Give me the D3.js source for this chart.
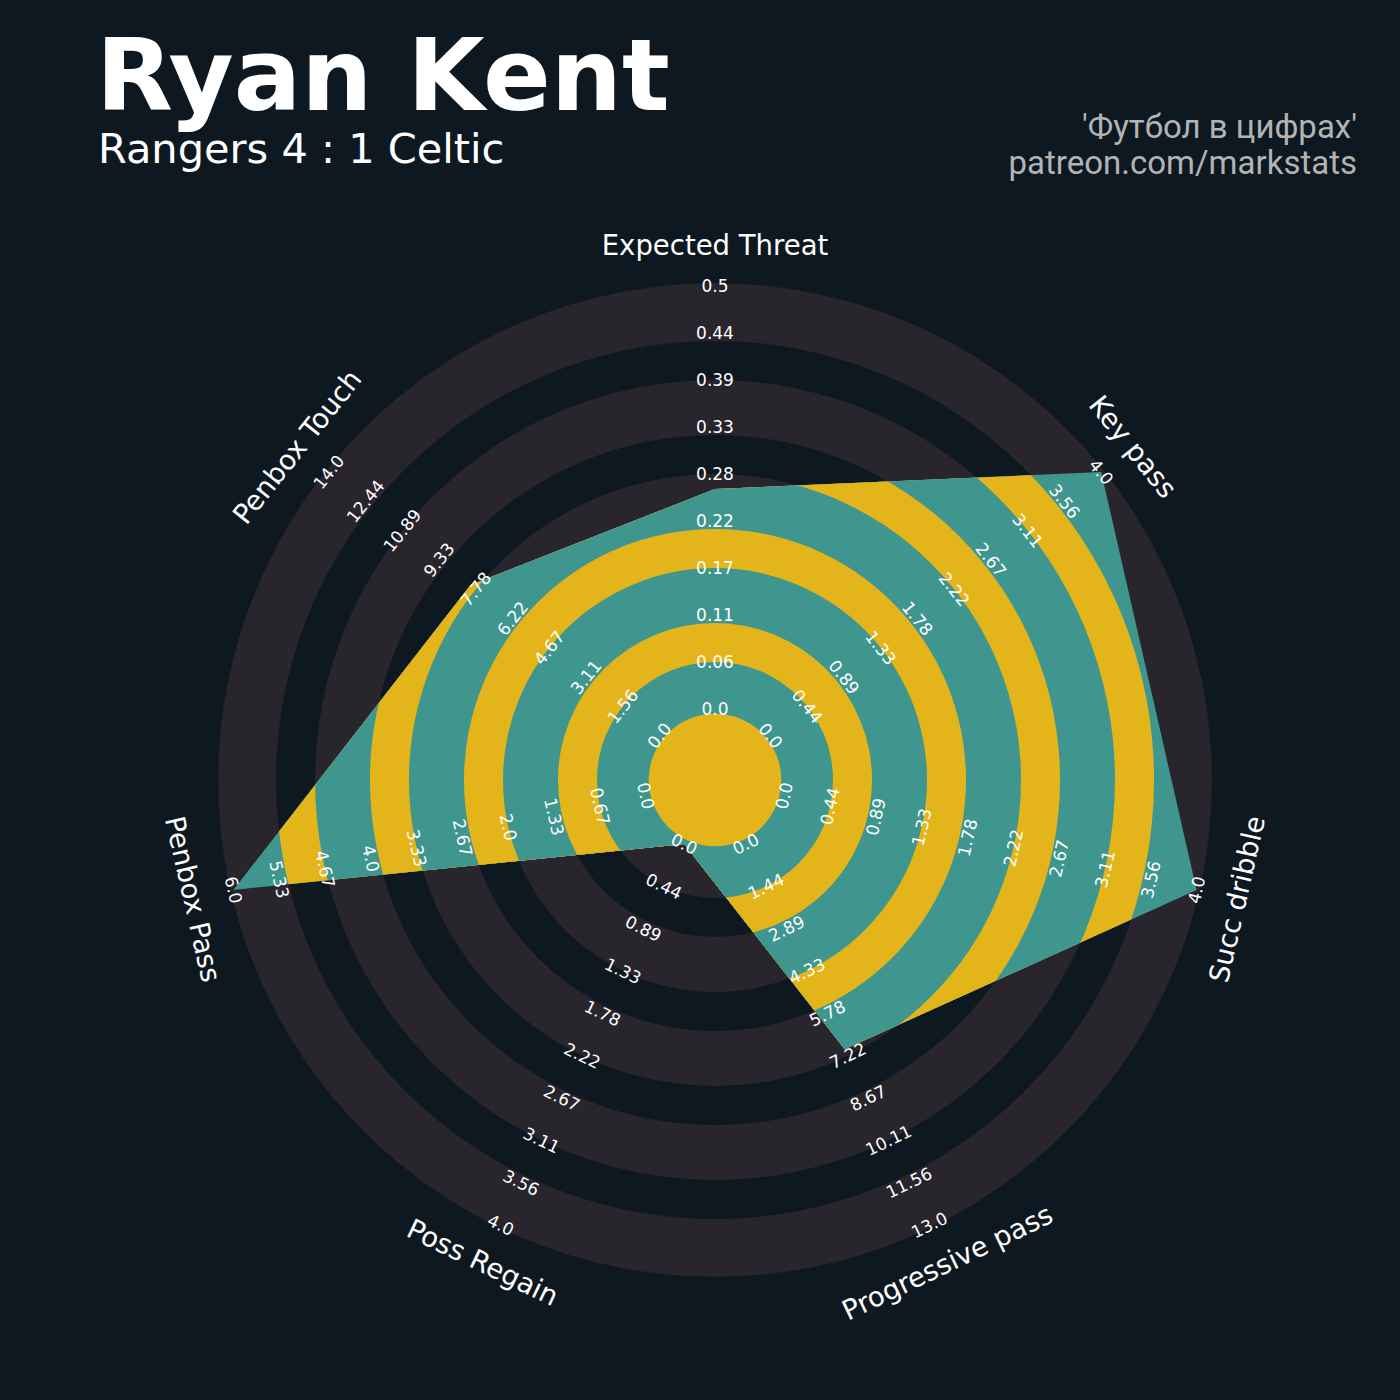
<!DOCTYPE html>
<html>
<head>
<meta charset="utf-8">
<script src="https://cdn.jsdelivr.net/npm/d3@7"></script>
<style>
body { margin: 0; background: #0e1821; }
text { font-family: "DejaVu Sans", sans-serif; }
</style>
</head>
<body>
<div id="chart"></div>
<script>
// radar data
var params = ["Expected Threat", "Key pass", "Succ dribble", "Progressive pass", "Poss Regain", "Penbox Pass", "Penbox Touch"];
var minRange = [0, 0, 0, 0, 0, 0, 0];
var maxRange = [0.5, 4, 4, 13, 4, 6, 14];
var values = [0.26, 4, 4, 7, 0, 6, 8];

var title = "Ryan Kent";
var subtitle = "Rangers 4 : 1 Celtic";
var credits = ["'Футбол в цифрах'", "patreon.com/markstats"];

var width = 1400;
var height = 1400;
var cx = 715;
var cy = 780;
var numRings = 9;

var bg = "#0e1821";
var ringGray = "#28252c";
var teal = "#3e968f";
var yellow = "#e4b51a";

// ring units -> pixels
var r = d3.scaleLinear().domain([0, numRings]).range([71, 494]);

// ring edges, outermost first (wide ring / narrow ring alternating)
var edges = [numRings + 0.06];
for (var k = 4; k >= 1; k--) {
	edges.push(2 * k - 1 + 0.83);
	edges.push(2 * k - 1);
}
edges.push(-0.1);

var angle = d3.scaleLinear().domain([0, params.length]).range([0, 2 * Math.PI]);

var svg = d3.select("#chart").append("svg")
	.attr("width", width)
	.attr("height", height);

svg.append("rect")
	.attr("width", width)
	.attr("height", height)
	.attr("fill", bg);

var g = svg.append("g")
	.attr("transform", "translate(" + cx + "," + cy + ")");

// background rings
g.append("g").selectAll("circle")
	.data(edges)
	.enter()
	.append("circle")
	.attr("r", function(d) { return r(d); })
	.attr("fill", function(d, i) { return i % 2 == 0 ? ringGray : bg; });

// radar polygon, clipped rings
var scales = params.map(function(p, i) {
	return d3.scaleLinear().domain([minRange[i], maxRange[i]]).range([r(0), r(numRings)]);
});

var radial = d3.lineRadial()
	.angle(function(d, i) { return angle(i); })
	.radius(function(d, i) { return scales[i](d); })
	.curve(d3.curveLinearClosed);

g.append("clipPath")
	.attr("id", "radar-clip")
	.append("path")
	.attr("d", radial(values));

g.append("g")
	.attr("clip-path", "url(#radar-clip)")
	.selectAll("circle")
	.data(edges)
	.enter()
	.append("circle")
	.attr("r", function(d) { return r(d); })
	.attr("fill", function(d, i) { return i % 2 == 0 ? teal : yellow; });

// rotation of labels along each spoke
function rotation(i) {
	var deg = angle(i) * 180 / Math.PI;
	if (deg > 90 && deg < 270) {
		return deg - 180;
	}
	return deg;
}

function fmt(v) {
	var s = Math.round(v * 100) / 100;
	return Number.isInteger(s) ? s + ".0" : String(s);
}

// range labels
params.forEach(function(p, i) {
	var ticks = d3.range(numRings + 1);
	var a = angle(i);
	g.append("g").selectAll("text")
		.data(ticks)
		.enter()
		.append("text")
		.attr("transform", function(t) {
			var rr = r(t);
			return "translate(" + (rr * Math.sin(a)) + "," + (-rr * Math.cos(a)) + ") rotate(" + rotation(i) + ")";
		})
		.attr("text-anchor", "middle")
		.attr("dominant-baseline", "central")
		.attr("fill", "#ffffff")
		.style("font-size", "17px")
		.text(function(t) {
			return fmt(scales[i].invert(r(t)));
		});
});

// parameter labels
g.append("g").selectAll("text")
	.data(params)
	.enter()
	.append("text")
	.attr("transform", function(d, i) {
		var a = angle(i);
		return "translate(" + (535 * Math.sin(a)) + "," + (-535 * Math.cos(a)) + ") rotate(" + rotation(i) + ")";
	})
	.attr("text-anchor", "middle")
	.attr("dominant-baseline", "central")
	.attr("fill", "#ffffff")
	.style("font-size", "27.5px")
	.text(function(d) { return d; });

// titles
svg.append("text")
	.attr("x", 96)
	.attr("y", 110)
	.attr("fill", "#ffffff")
	.style("font-size", "100px")
	.style("font-weight", "bold")
	.text(title);

svg.append("text")
	.attr("x", 98)
	.attr("y", 163)
	.attr("fill", "#ffffff")
	.style("font-size", "41.5px")
	.text(subtitle);

svg.append("g").selectAll("text")
	.data(credits)
	.enter()
	.append("text")
	.attr("x", 1357)
	.attr("y", function(d, i) { return 138 + i * 36; })
	.attr("text-anchor", "end")
	.attr("fill", "#b3b3b3")
	.style("font-family", "Roboto")
	.style("font-size", "33px")
	.text(function(d) { return d; });
</script>
</body>
</html>
